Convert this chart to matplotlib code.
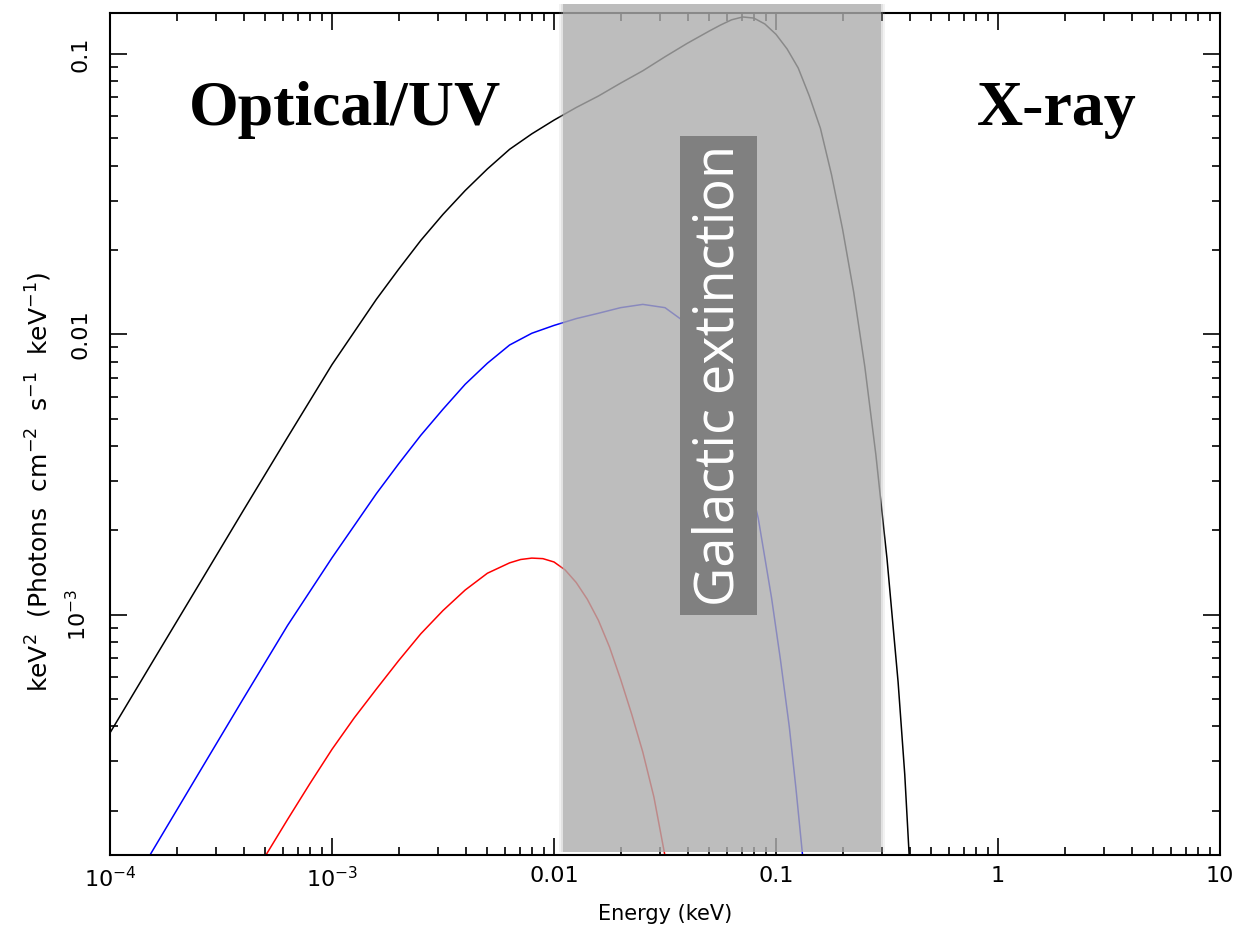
import matplotlib
matplotlib.use("Agg")
import matplotlib.pyplot as plt
from matplotlib.patches import Rectangle

# ---- data ----
energy_black = [1.0e-4, 1.585e-4, 2.512e-4, 3.981e-4, 6.310e-4, 1.0e-3, 1.585e-3, 1.995e-3,
                2.512e-3, 3.162e-3, 3.981e-3, 5.012e-3, 6.310e-3, 7.943e-3, 0.01, 0.01259,
                0.01585, 0.01995, 0.02512, 0.03162, 0.03981, 0.04467, 0.05012, 0.05623,
                0.0631, 0.07079, 0.07943, 0.08913, 0.1, 0.1122, 0.1259, 0.1413, 0.1585,
                0.1778, 0.1995, 0.2239, 0.2512, 0.2818, 0.3162, 0.3548, 0.3802, 0.3981]
flux_black = [3.79e-4, 6.97e-4, 1.279e-3, 2.350e-3, 4.295e-3, 7.80e-3, 0.01334, 0.01706,
              0.02163, 0.02679, 0.03258, 0.03890, 0.04571, 0.05188, 0.05808, 0.06442,
              0.07079, 0.07870, 0.08710, 0.09772, 0.1091, 0.1148, 0.1208, 0.1268,
              0.1324, 0.1355, 0.1343, 0.1279, 0.1175, 0.1042, 0.08913, 0.07079, 0.05433,
              0.03715, 0.02371, 0.01413, 7.674e-3, 3.715e-3, 1.585e-3, 5.754e-4, 2.692e-4,
              1.380e-4]

energy_blue = [1.51e-4, 2.512e-4, 3.981e-4, 6.310e-4, 1.0e-3, 1.585e-3, 1.995e-3, 2.512e-3,
               3.162e-3, 3.981e-3, 5.012e-3, 6.310e-3, 7.943e-3, 0.01, 0.01259, 0.01585,
               0.01995, 0.02512, 0.03162, 0.03715, 0.04467, 0.05623, 0.07079, 0.08318,
               0.09550, 0.1047, 0.1148, 0.1230, 0.1318]
flux_blue = [1.385e-4, 2.723e-4, 5.012e-4, 9.162e-4, 1.596e-3, 2.704e-3, 3.451e-3, 4.365e-3,
             5.408e-3, 6.637e-3, 7.889e-3, 9.162e-3, 0.01009, 0.01076, 0.01138, 0.01189,
             0.01245, 0.01279, 0.01245, 0.01135, 9.441e-3, 6.531e-3, 3.758e-3, 2.208e-3,
             1.148e-3, 6.918e-4, 3.981e-4, 2.399e-4, 1.380e-4]

energy_red = [5.012e-4, 6.310e-4, 7.943e-4, 1.0e-3, 1.259e-3, 1.585e-3, 1.995e-3, 2.512e-3,
              3.162e-3, 3.981e-3, 5.012e-3, 6.310e-3, 7.079e-3, 7.943e-3, 8.913e-3, 0.01,
              0.01122, 0.01259, 0.01413, 0.01585, 0.01778, 0.01995, 0.02239, 0.02512,
              0.02818, 0.03162]
flux_red = [1.380e-4, 1.862e-4, 2.495e-4, 3.311e-4, 4.285e-4, 5.433e-4, 6.855e-4, 8.551e-4,
            1.035e-3, 1.225e-3, 1.406e-3, 1.531e-3, 1.574e-3, 1.592e-3, 1.585e-3, 1.542e-3,
            1.445e-3, 1.303e-3, 1.135e-3, 9.550e-4, 7.674e-4, 5.888e-4, 4.416e-4, 3.236e-4,
            2.239e-4, 1.380e-4]

xticks = [1e-4, 1e-3, 0.01, 0.1, 1, 10]
xtick_labels = [r"$10^{-4}$", r"$10^{-3}$", "0.01", "0.1", "1", "10"]
yticks = [1e-3, 0.01, 0.1]
ytick_labels = [r"$10^{-3}$", "0.01", "0.1"]

band_range = (0.0110, 0.297)   # Galactic extinction band (keV)

# ---- figure ----
fig = plt.figure(figsize=(12.4, 9.3), dpi=100)
ax = fig.add_axes([110/1240, 75/930, 1110/1240, 842/930])
ax.set_xscale("log")
ax.set_yscale("log")
ax.set_xlim(1e-4, 10)
ax.set_ylim(1.39e-4, 0.14)

ax.plot(energy_black, flux_black, color="black", lw=1.1)
ax.plot(energy_blue, flux_blue, color="#0000ff", lw=1.1)
ax.plot(energy_red, flux_red, color="#ff0000", lw=1.1)

for s in ax.spines.values():
    s.set_linewidth(1.5)
ax.tick_params(which="both", direction="in", top=True, right=True, width=1.2)
ax.tick_params(which="major", length=12)
ax.tick_params(which="minor", length=6)
ax.set_xticks(xticks)
ax.set_xticklabels(xtick_labels)
ax.set_yticks(yticks)
ax.set_yticklabels(ytick_labels, rotation=90, va="center")
ax.tick_params(axis="x", labelsize=16, pad=8)
ax.tick_params(axis="y", labelsize=16, pad=14)

ax.set_xlabel("Energy (keV)", fontsize=15)
ax.set_ylabel(r"keV$^2$  (Photons  cm$^{-2}$  s$^{-1}$  keV$^{-1}$)", fontsize=18)
ax.xaxis.set_label_coords(0.5, -0.058)
ax.yaxis.set_label_coords(-0.05, 0.443)

# Galactic extinction band overlay (drawn above curves and frame)
ax.axvspan(band_range[0], band_range[1], ymin=0.004, ymax=1.011,
           facecolor="#adadad", alpha=0.8, edgecolor="none", zorder=10, clip_on=False)
# soft edges (thin strips just outside the band)
for k, a in [(1, 0.35), (2, 0.15)]:
    f_in = 10 ** ((k - 1) * 2 / 222)
    f_out = 10 ** (k * 2 / 222)
    ax.axvspan(band_range[0] / f_out, band_range[0] / f_in, ymin=0.004, ymax=1.011,
               facecolor="#adadad", alpha=a, edgecolor="none", zorder=10, clip_on=False)
    ax.axvspan(band_range[1] * f_in, band_range[1] * f_out, ymin=0.004, ymax=1.011,
               facecolor="#adadad", alpha=a, edgecolor="none", zorder=10, clip_on=False)

# label box
ax.add_patch(Rectangle((0.5135, 0.285), 0.0694, 0.569, transform=ax.transAxes,
                       facecolor="#808080", edgecolor="none", zorder=11, clip_on=False))
ax.text(0.5482, 0.5695, "Galactic extinction", transform=ax.transAxes, rotation=90,
        ha="center", va="center", color="white", fontsize=39, family="Open Sans",
        zorder=12)

ax.text(0.212, 0.885, "Optical/UV", transform=ax.transAxes, ha="center", va="center",
        fontsize=46, fontweight="bold", family="Liberation Serif", zorder=12)
ax.text(0.853, 0.885, "X-ray", transform=ax.transAxes, ha="center", va="center",
        fontsize=46, fontweight="bold", family="Liberation Serif", zorder=12)

fig.savefig("out.png", dpi=100)
